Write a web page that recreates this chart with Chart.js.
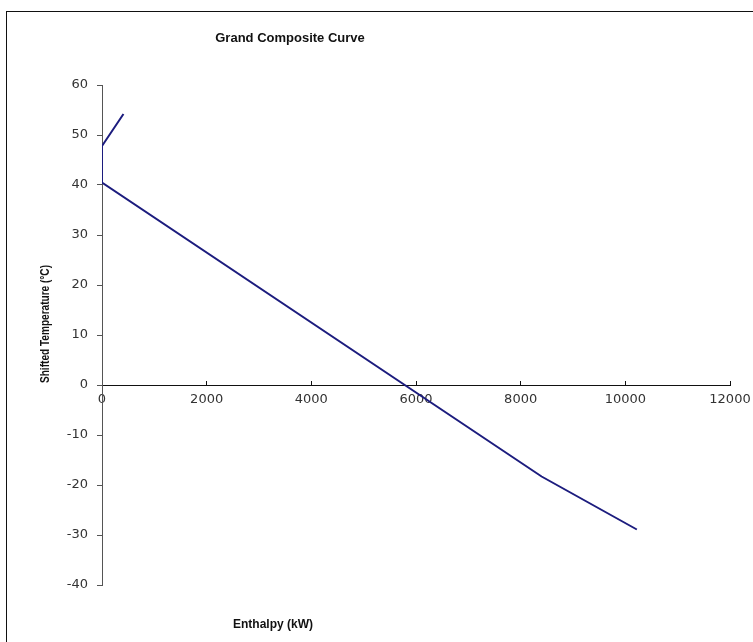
<!DOCTYPE html>
<html>
<head>
<meta charset="utf-8">
<title>Grand Composite Curve</title>
<script src="https://cdn.jsdelivr.net/npm/chart.js@4.4.1/dist/chart.umd.min.js"></script>
<style>
  html, body { margin: 0; padding: 0; background: #fff; overflow: hidden; }
  #wrap { position: relative; width: 753px; height: 642px; }
  #frame { position: absolute; left: 6px; top: 11px; width: 900px; height: 800px; border: 1px solid #111; box-sizing: border-box; pointer-events: none; }
  canvas { position: absolute; left: 0; top: 0; }
</style>
</head>
<body>
<div id="wrap">
  <div id="frame"></div>
  <canvas id="gcc" width="753" height="642"></canvas>
</div>
<script>
// data
var enthalpy = [410, 0, 0, 8400, 10220];          // kW
var temperature = [54.2, 47.8, 40.5, -18.3, -28.9]; // shifted temp, deg C

var xMin = 0, xMax = 12000, xStep = 2000
var yMin = -40, yMax = 60, yStep = 10

var titleText = 'Grand Composite Curve'
var xTitle = 'Enthalpy (kW)'
var yTitle = 'Shifted Temperature (\u00b0C)'

var points = []
for (var i = 0; i < enthalpy.length; i++) {
    points.push({x: enthalpy[i], y: temperature[i]})
}

// titles sit off-centre in the original, so draw them where they were
var textPlugin = {
    id: 'freeText',
    afterDraw: function (chart) {
        var ctx = chart.ctx
        ctx.save()
        ctx.fillStyle = '#111'
        ctx.textAlign = 'center'
        ctx.textBaseline = 'middle'
        ctx.font = 'bold 13px "Liberation Sans", Arial, sans-serif'
        ctx.fillText(titleText, 290, 38)
        ctx.font = 'bold 12px "Liberation Sans", Arial, sans-serif'
        ctx.fillText(xTitle, 273, 625)
        // y title is a narrow face in the original: squeeze along the text
        ctx.translate(46, 324)
        ctx.rotate(-Math.PI / 2)
        var w = ctx.measureText(yTitle).width
        ctx.scale(118 / w, 1)
        ctx.fillText(yTitle, 0, 0)
        ctx.restore()
    }
}

var ctx = document.getElementById('gcc')
var myChart = new Chart(ctx, {
    type: 'scatter',
    data: {
        datasets: [{
            label: 'GCC',
            data: points,
            showLine: true,
            borderColor: '#1c1c7e',
            borderWidth: 2,
            pointRadius: 0,
            tension: 0
        }]
    },
    options: {
        responsive: false,
        animation: false,
        layout: {
            padding: {top: 85, right: 23, bottom: 57, left: 0}
        },
        plugins: {
            legend: {display: false},
            tooltip: {enabled: false}
        },
        scales: {
            x: {
                type: 'linear',
                position: {y: 0},
                min: xMin,
                max: xMax,
                ticks: {
                    stepSize: xStep,
                    color: '#333',
                    padding: 12,
                    maxRotation: 0,
                    font: {family: '"DejaVu Sans", Verdana, sans-serif', size: 13},
                    callback: function (v) { return String(v) }
                },
                grid: {
                    drawOnChartArea: false,
                    tickLength: -5,
                    color: '#111'
                },
                border: {color: '#111', width: 1},
                afterFit: function (scale) {
                    scale.paddingLeft = 0
                    scale.paddingRight = 0
                }
            },
            y: {
                position: 'left',
                min: yMin,
                max: yMax,
                ticks: {
                    stepSize: yStep,
                    color: '#333',
                    padding: 9,
                    font: {family: '"DejaVu Sans", Verdana, sans-serif', size: 13}
                },
                grid: {
                    drawOnChartArea: false,
                    tickLength: 5,
                    color: '#555'
                },
                border: {color: '#555', width: 1},
                afterFit: function (scale) { scale.width = 102 }
            }
        }
    },
    plugins: [textPlugin]
});
</script>
</body>
</html>
